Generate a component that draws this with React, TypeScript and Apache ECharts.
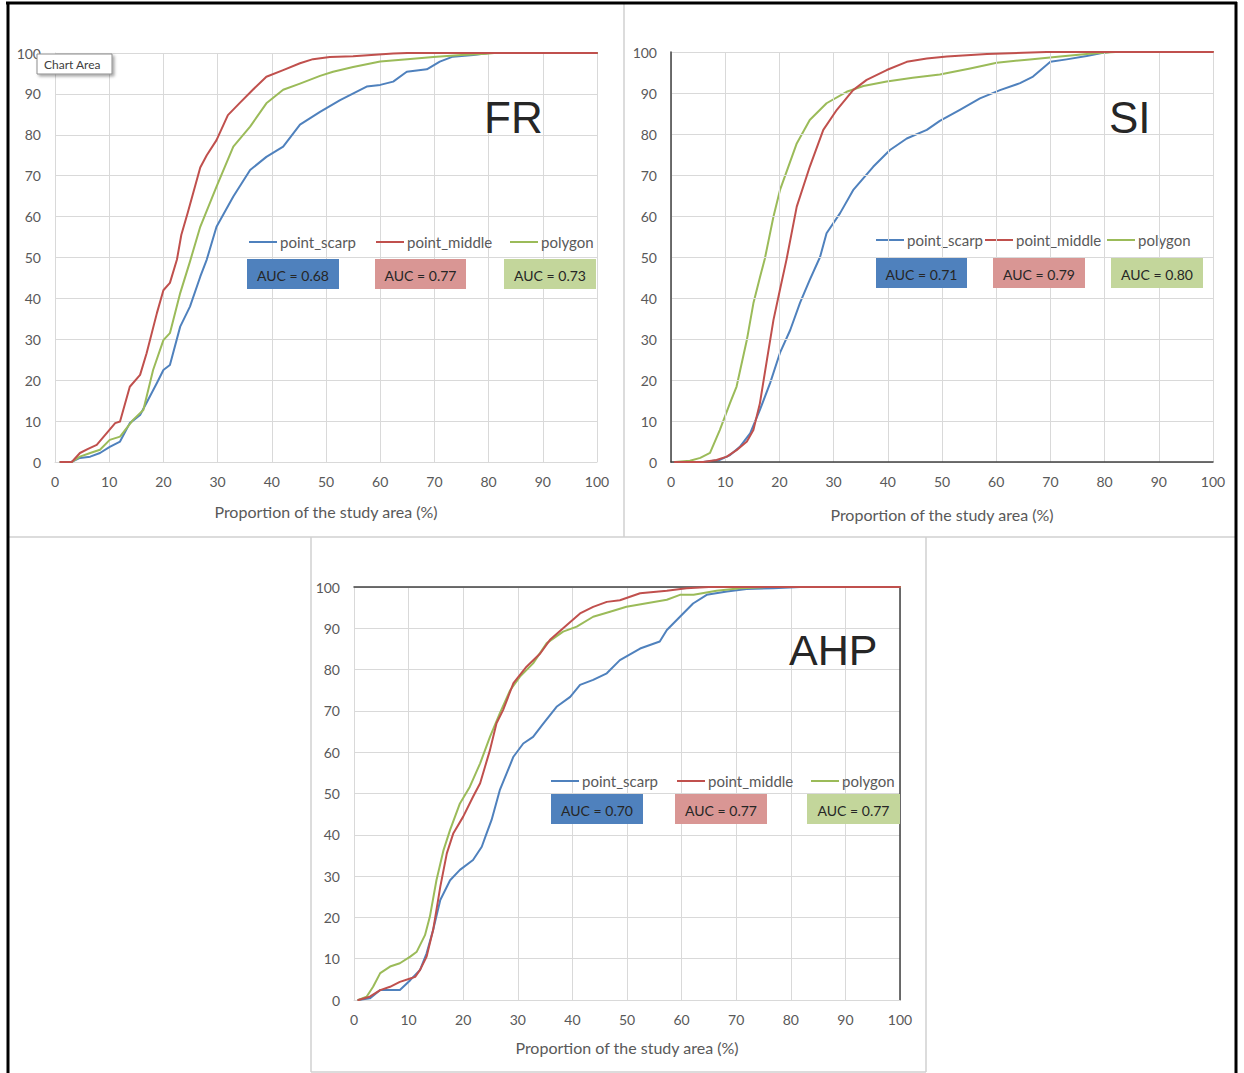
import React, { useEffect, useRef } from "react";
import * as echarts from "echarts";

const FONT = 'Lato, "Open Sans", sans-serif';
const SERIES_NAMES = ["point_scarp", "point_middle", "polygon"];
const SERIES_COLORS = ["#4f81bd", "#c0504d", "#9bbb59"];
const BOX_COLORS = ["#4f81bd", "#d99694", "#c3d69b"];
const PANEL_TITLES = ["FR", "SI", "AHP"];
const AXIS_TITLE = "Proportion of the study area (%)";

const FR_AUC = [0.68, 0.77, 0.73];
const SI_AUC = [0.71, 0.79, 0.8];
const AHP_AUC = [0.7, 0.77, 0.77];

const FR_SCARP = [[1,0],[3,0],[4.6,1],[6.5,1.3],[8.3,2.2],[10.1,3.7],[12,5],[13.8,9.5],[15.7,11.5],[17.5,16],[18.8,19.3],[20,22.5],[21.2,23.7],[23.1,33.1],[24.9,38],[26.8,45.3],[28,49.5],[29.8,57.5],[32.9,64.9],[36,71.4],[39,74.6],[42.1,77.1],[45.2,82.5],[48.9,85.6],[52.6,88.5],[57.5,91.8],[60,92.2],[62.4,93],[64.9,95.4],[68.6,96],[71,97.9],[73.4,99.1],[77.2,99.5],[80,100],[100,100]];
const FR_MIDDLE = [[1,0],[3.1,0],[4.6,2.2],[6.1,3.2],[7.7,4.2],[9.5,7],[11.1,9.5],[12,9.9],[13.8,18.4],[15.7,21.3],[16.9,26.6],[18.8,36.4],[20,42],[21.2,43.8],[22.5,49.5],[23.3,55.5],[24.5,61],[26.8,72],[28,75],[29.8,78.7],[31.9,84.8],[34.1,87.8],[36.5,91],[39,94.2],[42.1,95.8],[45.2,97.5],[47.6,98.5],[50.7,99],[55,99.2],[62.4,99.9],[65,100],[100,100]];
const FR_POLYGON = [[1,0],[3.1,0],[4.6,1.3],[6.5,2.2],[8.3,3],[10.1,5.4],[12,6.2],[14.4,10.3],[16.3,12.7],[18.1,22.5],[20,29.8],[21.2,31.5],[23.1,41.3],[24.9,49],[26.8,57.5],[29.8,67.3],[32.9,77.1],[36,82],[39,87.7],[42.1,91],[45.2,92.5],[48.9,94.4],[51.3,95.4],[55,96.6],[60,97.9],[65,98.5],[69.8,99],[75,99.5],[79.6,99.8],[81,100],[100,100]];

const SI_SCARP = [[0.7,0],[6,0],[9,0.5],[10.9,1.7],[12.7,3.7],[14.6,7],[16.4,12.7],[18.3,19.3],[20.1,26.6],[22,32.2],[23.8,38.8],[25.6,44.4],[27.5,50],[28.7,55.8],[31.2,60.7],[33.6,66.3],[37.3,72],[40.4,76.1],[43.5,78.9],[47.2,81],[49.6,83.2],[53.3,85.9],[57,88.7],[60.7,90.7],[64.4,92.4],[66.8,94],[70,97.6],[73,98.2],[76.7,99],[79.7,99.8],[81,100],[100,100]];
const SI_MIDDLE = [[0.7,0],[5.9,0],[8.4,0.5],[10.3,1.3],[12.1,2.9],[14,5],[15.2,7.8],[16.4,14.3],[17.7,24.9],[18.9,34.6],[20.1,42],[21.3,49.3],[23.2,62.3],[25.6,72],[28.1,81],[30.6,85.9],[33.6,90.7],[36.1,93.2],[39.8,95.6],[43.5,97.6],[47.2,98.4],[50.9,98.9],[58.3,99.5],[65,99.8],[69.3,100],[100,100]];
const SI_POLYGON = [[0.7,0],[3.5,0.3],[5.4,1],[7.2,2.2],[9,7.8],[10.9,14.4],[12.1,18.4],[14,29.8],[15.2,38.7],[16.4,45],[17.3,49.5],[18.9,59.8],[20.1,66.3],[23.2,77.7],[25.6,83.4],[28.7,87.5],[32.4,90.3],[35.5,91.7],[39.8,92.8],[44.6,93.7],[49.6,94.5],[55.2,96],[60.1,97.4],[66.2,98.2],[71.8,98.9],[76.7,99.5],[79.7,99.8],[82,100],[100,100]];

const AHP_SCARP = [[0.8,0],[2.9,0.4],[4.8,2.4],[6.6,2.4],[8.4,2.4],[10.3,4.8],[12.1,7.3],[13.3,11.3],[14.5,17],[15.8,24.2],[17.6,29],[19.4,31.5],[21.8,33.9],[23.4,37.1],[24.3,40.4],[25.2,43.6],[26.7,50.8],[29.2,58.9],[31,62.1],[32.8,63.7],[34.7,67],[37.1,71],[39.6,73.4],[41.4,76.3],[43.8,77.5],[46.3,79.1],[48.7,82.3],[52.4,85.1],[56,86.8],[57.3,89.6],[59.7,92.8],[62.1,96],[64.6,98.1],[68.3,98.9],[71.9,99.5],[76.8,99.7],[81.7,100],[100,100]];
const AHP_MIDDLE = [[0.8,0],[2.9,0.8],[4.8,2.4],[6.6,3.2],[8.4,4.4],[10.3,5.2],[11.2,5.6],[12.1,7.3],[13.3,10.5],[14.5,17],[15.8,27.4],[17,35.5],[18.2,40.4],[20,44.4],[21.8,49.2],[23.1,52.5],[24.9,60.5],[26.1,67],[27.3,70.2],[29.2,76.7],[31.6,80.7],[34.1,83.9],[35.9,87.2],[38.3,90],[41.4,93.6],[43.8,95.2],[46.3,96.4],[48.7,96.8],[52.4,98.5],[57.3,99.1],[60.9,99.7],[65,100],[100,100]];
const AHP_POLYGON = [[0.8,0],[2.3,0.8],[3.5,3.2],[4.8,6.5],[6.6,8.1],[8.4,8.9],[10.3,10.5],[11.5,11.7],[13,15.7],[13.9,20.2],[15.1,29],[16.4,36.3],[17.6,41.2],[19.4,47.6],[21.2,51.6],[23.1,57.3],[24.9,63.7],[26.7,69.4],[28.6,75],[30.4,78.3],[32.8,81.5],[35.3,86.4],[38.3,89.2],[40.8,90.4],[43.8,92.8],[46.9,94],[49.9,95.2],[57.3,96.9],[59.7,98.1],[62.2,98.1],[66.4,99.1],[70.7,99.7],[75.6,100],[100,100]];

const PANEL_DATA = [
  [FR_SCARP, FR_MIDDLE, FR_POLYGON],
  [SI_SCARP, SI_MIDDLE, SI_POLYGON],
  [AHP_SCARP, AHP_MIDDLE, AHP_POLYGON],
];
const PANEL_AUC = [FR_AUC, SI_AUC, AHP_AUC];

// layout (pixels)
const GRIDS = [
  { left: 55, top: 53, width: 542, height: 409 },
  { left: 671, top: 52, width: 542, height: 410 },
  { left: 354, top: 587, width: 546, height: 413 },
];
const NAME_GAPS = [41, 44, 39];
const LEGEND_LEFTS = [[249, 376, 510], [876, 985, 1107], [551, 677, 811]];
const LEGEND_CENTERS = [242, 240, 781];
const BOXES = [
  [[247, 259, 92, 30], [375, 259, 91, 30], [504, 259, 92, 30]],
  [[876, 258, 91, 30], [993, 258, 92, 30], [1111, 258, 92, 30]],
  [[551, 794, 92, 30], [675, 794, 92, 30], [807, 794, 93, 30]],
];
const TITLE_POS = [[484, 117, 44], [1109, 117, 44], [789, 650, 43]];

const GRID_COLOR = "#d9d9d9";
const TEXT_COLOR = "#595959";
const DARK_AXIS = "#404040";

function App() {
  const ref = useRef<HTMLDivElement>(null);
  useEffect(() => {
    if (!ref.current) return;
    const chart = echarts.init(ref.current, null, { renderer: "svg" });

    const xAxis: any[] = [];
    const yAxis: any[] = [];
    GRIDS.forEach((_, i) => {
      const dark = i === 1;
      xAxis.push({
        type: "value", gridIndex: i, min: 0, max: 100, interval: 10,
        axisLine: { show: true, onZero: false, lineStyle: { color: dark ? DARK_AXIS : GRID_COLOR, width: dark ? 1.5 : 1 } },
        axisTick: { show: false },
        axisLabel: { color: TEXT_COLOR, fontSize: 14, fontFamily: FONT, margin: 12 },
        splitLine: { show: true, lineStyle: { color: GRID_COLOR, width: 1 } },
        name: AXIS_TITLE, nameLocation: "middle", nameGap: NAME_GAPS[i],
        nameTextStyle: { color: TEXT_COLOR, fontSize: 16, fontFamily: FONT },
        z: dark ? 5 : 0,
      });
      yAxis.push({
        type: "value", gridIndex: i, min: 0, max: 100, interval: 10,
        axisLine: { show: true, onZero: false, lineStyle: { color: dark ? DARK_AXIS : GRID_COLOR, width: dark ? 1.5 : 1 } },
        axisTick: { show: false },
        axisLabel: { color: TEXT_COLOR, fontSize: 14, fontFamily: FONT, margin: 14 },
        splitLine: { show: true, lineStyle: { color: GRID_COLOR, width: 1 } },
        z: dark ? 5 : 0,
      });
    });
    // AHP: dark top and right frame
    xAxis.push({
      type: "value", gridIndex: 2, min: 0, max: 100, interval: 10, position: "top",
      axisLine: { show: true, onZero: false, lineStyle: { color: DARK_AXIS, width: 1.5 } },
      axisTick: { show: false }, axisLabel: { show: false }, splitLine: { show: false },
    });
    yAxis.push({
      type: "value", gridIndex: 2, min: 0, max: 100, interval: 10, position: "right",
      axisLine: { show: true, onZero: false, lineStyle: { color: DARK_AXIS, width: 1.5 } },
      axisTick: { show: false }, axisLabel: { show: false }, splitLine: { show: false },
    });

    const series: any[] = [];
    PANEL_DATA.forEach((sets, p) => {
      sets.forEach((data, s) => {
        series.push({
          type: "line", name: SERIES_NAMES[s], xAxisIndex: p, yAxisIndex: p,
          data, showSymbol: false, symbol: "none", smooth: false,
          lineStyle: { color: SERIES_COLORS[s], width: 2, join: "round", cap: "round" },
          itemStyle: { color: SERIES_COLORS[s] },
          z: 3 + (s === 0 ? 0 : s === 2 ? 1 : 2),
        });
      });
    });

    const legend: any[] = [];
    LEGEND_LEFTS.forEach((lefts, p) => {
      lefts.forEach((left, s) => {
        legend.push({
          data: [SERIES_NAMES[s]], left, top: LEGEND_CENTERS[p] - 9, padding: 0,
          icon: "rect", itemWidth: 28, itemHeight: 2, itemGap: 0,
          selectedMode: false,
          textStyle: { color: TEXT_COLOR, fontSize: 15, fontFamily: FONT, lineHeight: 18, padding: [0, 0, 0, -2] },
        });
      });
    });

    const graphic: any[] = [];
    const gline = (x1: number, y1: number, x2: number, y2: number, color: string, w: number) => ({
      type: "line", shape: { x1, y1, x2, y2 }, style: { stroke: color, lineWidth: w }, z: 50, silent: true,
    });
    graphic.push(gline(8, 537, 1236, 537, "#d0d0d0", 1.5));
    graphic.push(gline(624, 3, 624, 537, "#d0d0d0", 1.5));
    graphic.push(gline(311, 537, 311, 1072, "#d0d0d0", 1.5));
    graphic.push(gline(926, 537, 926, 1072, "#d0d0d0", 1.5));
    graphic.push(gline(311, 1072, 926, 1072, "#d0d0d0", 1.5));
    graphic.push(gline(6, 3, 1237, 3, "#000000", 3));
    graphic.push(gline(8, 2, 8, 1073, "#000000", 3));
    graphic.push(gline(1236, 2, 1236, 1073, "#000000", 3));

    // AUC boxes
    BOXES.forEach((boxes, p) => {
      boxes.forEach(([x, y, w, h], s) => {
        graphic.push({
          type: "rect", shape: { x, y, width: w, height: h },
          style: { fill: BOX_COLORS[s] }, z: 60, silent: true,
        });
        graphic.push({
          type: "text", x: x + w / 2, y: y + h / 2 + 1, z: 61, silent: true,
          style: {
            text: `AUC = ${PANEL_AUC[p][s].toFixed(2)}`, fill: "#262626",
            font: `14px ${FONT}`, align: "center", verticalAlign: "middle",
            textAlign: "center", textVerticalAlign: "middle",
          },
        });
      });
    });

    // panel titles
    PANEL_TITLES.forEach((t, p) => {
      const [x, y, fs] = TITLE_POS[p];
      graphic.push({
        type: "text", x, y, z: 61, silent: true,
        style: {
          text: t, fill: "#262626", font: `${fs}px "Liberation Sans", Arial, sans-serif`,
          align: "left", verticalAlign: "middle", textAlign: "left", textVerticalAlign: "middle",
        },
      });
    });

    // "Chart Area" tooltip
    graphic.push({
      type: "rect", shape: { x: 37, y: 54, width: 75, height: 20 },
      style: { fill: "#ffffff", stroke: "#8c8c8c", lineWidth: 1, shadowBlur: 3, shadowOffsetX: 2, shadowOffsetY: 2, shadowColor: "rgba(0,0,0,0.35)" },
      z: 70, silent: true,
    });
    graphic.push({
      type: "text", x: 44, y: 64, z: 71, silent: true,
      style: { text: "Chart Area", fill: "#404040", font: `12px ${FONT}`, align: "left", verticalAlign: "middle", textAlign: "left", textVerticalAlign: "middle" },
    });

    chart.setOption({
      animation: false,
      backgroundColor: "#ffffff",
      grid: GRIDS.map((g) => ({ ...g, containLabel: false })),
      xAxis, yAxis, series, legend, graphic,
    });
    return () => chart.dispose();
  }, []);
  return (
    <div
      ref={ref}
      style={{ position: "absolute", left: 0, top: 0, width: 1244, height: 1073, background: "#fff" }}
    />
  );
}

export default App;
